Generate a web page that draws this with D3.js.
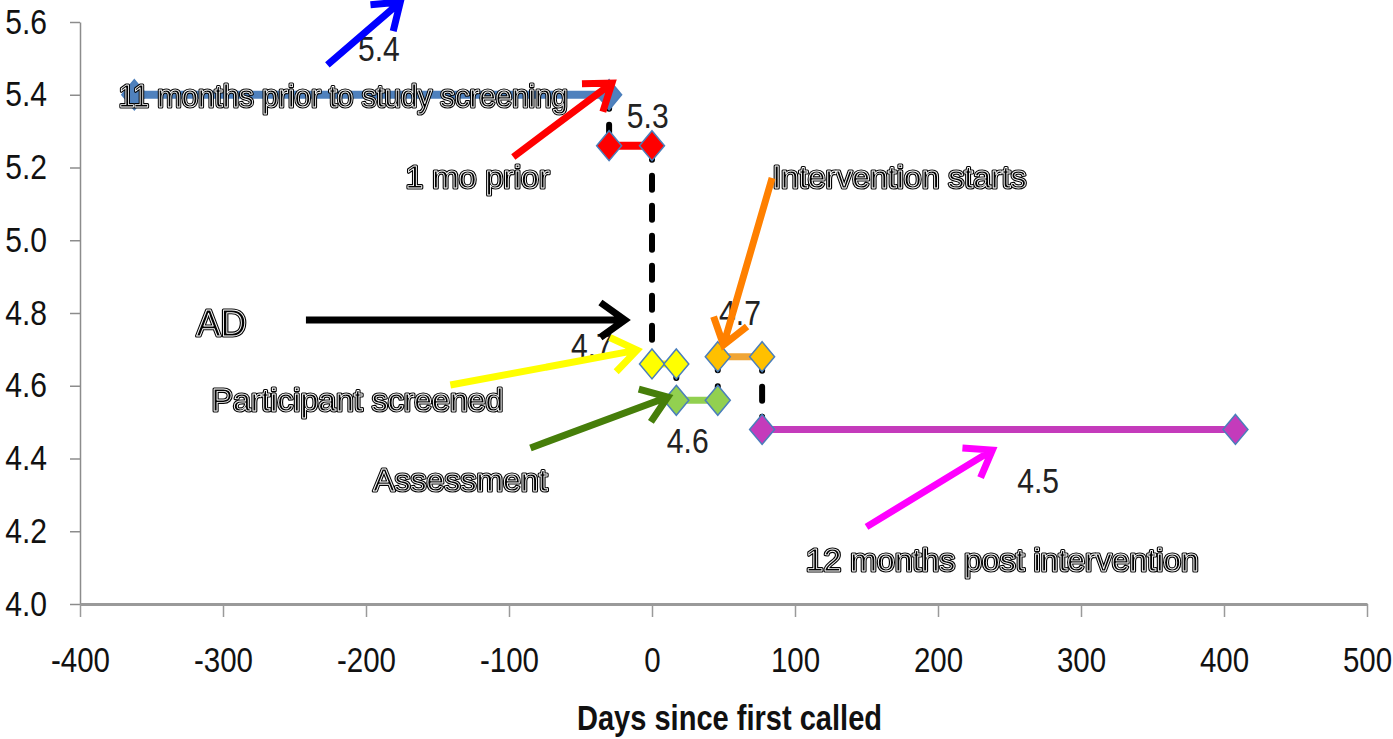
<!DOCTYPE html>
<html>
<head>
<meta charset="utf-8">
<script src="https://cdn.jsdelivr.net/npm/d3@7"></script>
<style>
  body { margin: 0; background: #fff; }
  svg { display: block; }
</style>
</head>
<body>
<script>
// segments of the trajectory (days since first called, value)
const startDays = [-362, -30, 0, 17, 46, 77];
const endDays = [-30, 0, 17, 46, 77, 408];
const values = [5.40, 5.26, 4.66, 4.56, 4.68, 4.48];
const valueLabels = ["5.4", "5.3", "4.7", "4.6", "4.7", "4.5"];
// where the value labels sit, in data units
const valueLabelAt = [[-191, 5.493], [-3, 5.309], [-42, 4.676], [25, 4.415], [61.5, 4.767], [270, 4.305]];

const xTicks = [-400, -300, -200, -100, 0, 100, 200, 300, 400, 500];
const yTicks = [4.0, 4.2, 4.4, 4.6, 4.8, 5.0, 5.2, 5.4, 5.6];

// annotations
const noteTexts = ["11 months prior to study screening", "1 mo prior", "AD", "Participant screened",
                   "Assessment", "Intervention starts", "12 months post intervention"];
const noteAt = [[-216, 5.366], [-122, 5.144], [-301, 4.737], [-206, 4.531], [-134, 4.311], [173, 5.144], [245, 4.091]];
const arrowFrom = [[-227, 5.482], [-97, 5.229], [-242, 4.781], [-141, 4.602], [-85, 4.429], [84, 5.171], [150, 4.212]];
const arrowTo = [[-176, 5.655], [-28, 5.432], [-19, 4.781], [-10.5, 4.698], [11, 4.569], [50, 4.712], [238, 4.423]];

const lineColors = ["#4F81BD", "#FF0000", "#FFFF00", "#92D050", "#F0A535", "#C43BBB"];
const markerColors = ["#4F81BD", "#FF0000", "#FFFF00", "#92D050", "#FFC000", "#C43BBB"];
const arrowColors = ["#0000FF", "#FF0000", "#000000", "#FFFF00", "#467E0A", "#FF8000", "#FF00FF"];

const WIDTH = 1393;
const HEIGHT = 739;
const MARGIN = {top: 22, right: 26, bottom: 135, left: 80};
const FONT = 'Liberation Sans, Arial, sans-serif';

var xScale = d3.scaleLinear()
    .domain([-400, 500])
    .range([MARGIN.left, WIDTH - MARGIN.right]);

var yScale = d3.scaleLinear()
    .domain([4.0, 5.6])
    .range([HEIGHT - MARGIN.bottom, MARGIN.top]);

var svg = d3.select('body').append('svg')
    .attr('width', WIDTH)
    .attr('height', HEIGHT);

// y axis
var ySq = 0.86;
var yAxisG = svg.append('g')
    .attr('transform', 'translate(' + MARGIN.left + ',0)')
    .call(d3.axisLeft(yScale).tickValues(yTicks).tickFormat(d3.format('.1f'))
          .tickSize(10).tickSizeOuter(0).tickPadding(23));
yAxisG.select('.domain').attr('stroke', '#8c8c8c').attr('stroke-width', 1.5);
yAxisG.selectAll('.tick line').attr('stroke', '#8c8c8c').attr('stroke-width', 1.5);
yAxisG.selectAll('.tick text')
    .attr('font-family', FONT).attr('font-size', 35).attr('fill', '#111')
    .attr('x', -33 / ySq)
    .attr('transform', 'scale(' + ySq + ',1)');

// x axis
var xSq = 0.82;
var xAxisG = svg.append('g')
    .attr('transform', 'translate(0,' + (HEIGHT - MARGIN.bottom) + ')')
    .call(d3.axisBottom(xScale).tickValues(xTicks).tickFormat(function (d) { return String(d); })
          .tickSize(13).tickSizeOuter(0).tickPadding(29));
xAxisG.select('.domain').attr('stroke', '#9a9a9a').attr('stroke-width', 3);
xAxisG.selectAll('.tick line').attr('stroke', '#9a9a9a').attr('stroke-width', 1.5);
xAxisG.selectAll('.tick text')
    .attr('font-family', FONT).attr('font-size', 36).attr('fill', '#111')
    .attr('x', 0)
    .attr('transform', 'scale(' + xSq + ',1)');

svg.append('text')
    .attr('transform', 'translate(' + ((MARGIN.left + WIDTH - MARGIN.right) / 2 + 6) + ',730) scale(0.83,1)')
    .attr('text-anchor', 'middle')
    .attr('font-family', FONT)
    .attr('font-weight', 'bold')
    .attr('font-size', 35)
    .attr('fill', '#111')
    .text('Days since first called');

var segs = startDays.map(function (d, i) {
  return {i: i, x0: d, x1: endDays[i], v: values[i]};
});

var line = d3.line()
    .x(function (d) { return xScale(d[0]); })
    .y(function (d) { return yScale(d[1]); });

var g = svg.append('g');

// segment lines
g.selectAll('.seg').data(segs).enter()
  .append('path')
    .attr('class', 'seg')
    .attr('d', function (d) { return line([[d.x0, d.v], [d.x1, d.v]]); })
    .attr('stroke', function (d) { return lineColors[d.i]; })
    .attr('stroke-width', function (d) { return d.i < 2 ? 8 : 7; })
    .attr('fill', 'none');

// dashed connectors between consecutive segments
var links = segs.slice(1).map(function (d) {
  return [[segs[d.i - 1].x1, segs[d.i - 1].v], [d.x0, d.v]];
});
g.selectAll('.link').data(links).enter()
  .append('path')
    .attr('class', 'link')
    .attr('d', function (d) { return line(d); })
    .attr('stroke', '#000')
    .attr('stroke-width', 6)
    .attr('stroke-dasharray', '14,16')
    .attr('stroke-linecap', 'round')
    .attr('fill', 'none');

// diamond markers
var pts = [];
segs.forEach(function (d) {
  pts.push({i: d.i, x: d.x0, v: d.v});
  pts.push({i: d.i, x: d.x1, v: d.v});
});
g.selectAll('.mk').data(pts).enter()
  .append('path')
    .attr('class', 'mk')
    .attr('d', 'M0,-15L12.5,0L0,15L-12.5,0Z')
    .attr('transform', function (d) { return 'translate(' + xScale(d.x) + ',' + yScale(d.v) + ')'; })
    .attr('fill', function (d) { return markerColors[d.i]; })
    .attr('stroke', '#4A7EBB')
    .attr('stroke-width', 1.5);

// value labels
g.selectAll('.vl').data(valueLabels).enter()
  .append('text')
    .attr('class', 'vl')
    .attr('transform', function (d, i) {
      return 'translate(' + xScale(valueLabelAt[i][0]) + ',' + yScale(valueLabelAt[i][1]) + ') scale(0.86,1)';
    })
    .attr('text-anchor', 'middle')
    .attr('font-family', FONT)
    .attr('font-size', 35)
    .attr('fill', '#222')
    .text(function (d) { return d; });

// annotation text, outlined look
var noteSq = [0.92, 1, 1, 1, 1, 1, 1];
var notePos = function (d, i) {
  return 'translate(' + xScale(noteAt[i][0]) + ',' + yScale(noteAt[i][1]) + ') scale(' + noteSq[i] + ',1)';
};
var notesG = g.append('g').attr('opacity', 0.99);
[['#000', 3.2], ['#fff', 0.9]].forEach(function (layer) {
  notesG.selectAll(null).data(noteTexts).enter()
    .append('text')
      .attr('transform', notePos)
      .attr('text-anchor', 'middle')
      .attr('font-family', FONT)
      .attr('font-size', function (d, i) { return i === 2 ? 36 : 32; })
      .attr('fill', '#000')
      .attr('stroke', layer[0])
      .attr('stroke-width', layer[1])
      .attr('stroke-linejoin', 'round')
      .text(function (d) { return d; });
});

// arrows
var arrowPath = function (i) {
  var x1 = xScale(arrowFrom[i][0]), y1 = yScale(arrowFrom[i][1]);
  var x2 = xScale(arrowTo[i][0]), y2 = yScale(arrowTo[i][1]);
  var a = Math.atan2(y2 - y1, x2 - x1);
  var L = 30, spread = 0.62;
  var ax = x2 - L * Math.cos(a - spread), ay = y2 - L * Math.sin(a - spread);
  var bx = x2 - L * Math.cos(a + spread), by = y2 - L * Math.sin(a + spread);
  return 'M' + x1 + ',' + y1 + 'L' + x2 + ',' + y2 +
         'M' + ax + ',' + ay + 'L' + x2 + ',' + y2 + 'L' + bx + ',' + by;
};
g.selectAll('.arrow').data(arrowColors).enter()
  .append('path')
    .attr('class', 'arrow')
    .attr('d', function (d, i) { return arrowPath(i); })
    .attr('stroke', function (d) { return d; })
    .attr('stroke-width', 7)
    .attr('stroke-linejoin', 'miter')
    .attr('fill', 'none');
</script>
</body>
</html>
